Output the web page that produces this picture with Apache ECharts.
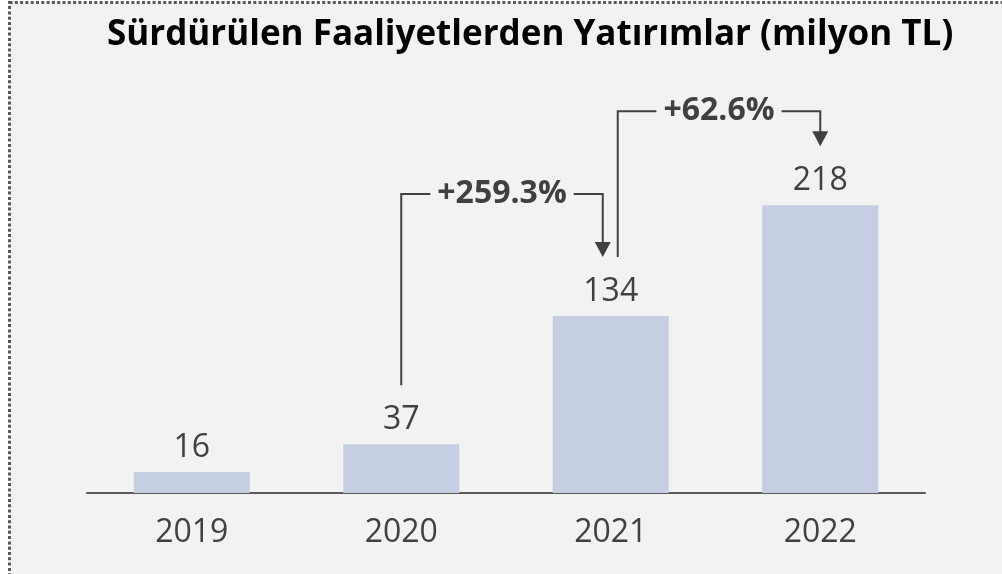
<!DOCTYPE html>
<html>
<head>
<meta charset="utf-8">
<title>Sürdürülen Faaliyetlerden Yatırımlar</title>
<script src="https://cdn.jsdelivr.net/npm/echarts@6/dist/echarts.min.js"></script>
<style>
  html, body { margin: 0; padding: 0; background: #fff; }
  #chart { width: 1002px; height: 574px; }
</style>
</head>
<body>
<div id="chart"></div>
<script>
const years = ['2019', '2020', '2021', '2022']
const investments = [16, 37, 134, 218]

// growth annotations between consecutive years
const growthFrom = [1, 2]
const growthTo = [2, 3]
const growthLabels = ['+259.3%', '+62.6%']

const FONT = '"Open Sans", "Noto Sans", sans-serif'
const TEXT = '#404040'
const BG = '#f2f2f2'

// pixel tweaks for the bracket arrows
const startShift = [0, 7]
const endShift = [-8, 0]
const bracketRise = [63, 35]
const gapAbove = 59

const chart = echarts.init(document.getElementById('chart'))

function renderGrowth(params, api) {
  const i = params.dataIndex
  const p0 = api.coord([api.value(0), api.value(2)])
  const p1 = api.coord([api.value(1), api.value(3)])
  const x0 = p0[0] + startShift[i]
  const x1 = p1[0] + endShift[i]
  const y0 = p0[1] - gapAbove
  const yEnd = p1[1] - gapAbove
  const yTop = Math.min(y0, yEnd) - bracketRise[i]
  return {
    type: 'group',
    children: [
      {
        type: 'polyline',
        shape: { points: [[x0, y0], [x0, yTop], [x1, yTop], [x1, yEnd - 14]] },
        style: { stroke: TEXT, lineWidth: 2, fill: null },
      },
      {
        type: 'polygon',
        shape: { points: [[x1 - 8, yEnd - 15], [x1 + 8, yEnd - 15], [x1, yEnd]] },
        style: { fill: TEXT },
      },
      {
        type: 'text',
        x: (x0 + x1) / 2,
        y: yTop,
        style: {
          text: growthLabels[i],
          align: 'center',
          verticalAlign: 'middle',
          font: 'bold 32px ' + FONT,
          fill: TEXT,
          backgroundColor: BG,
          padding: [0, 7],
        },
      },
    ],
  }
}

chart.setOption({
  backgroundColor: '#fff',
  animation: false,
  graphic: [
    {
      type: 'rect',
      z: -10,
      silent: true,
      shape: { x: 9.5, y: 2.5, width: 1100, height: 700 },
      style: { fill: BG, stroke: '#595959', lineWidth: 3, lineDash: [3, 2.3] },
    },
  ],
  title: {
    text: 'Sürdürülen Faaliyetlerden Yatırımlar (milyon TL)',
    left: 102,
    top: 13,
    textStyle: { fontFamily: FONT, fontSize: 35, fontWeight: 'bold', color: '#000' },
  },
  grid: { left: 87, right: 77, top: 97, bottom: 81 },
  xAxis: {
    type: 'category',
    data: years,
    axisTick: { show: false },
    axisLine: { lineStyle: { color: '#595959', width: 2 } },
    axisLabel: { fontFamily: FONT, fontSize: 32, color: TEXT, margin: 24 },
  },
  yAxis: {
    type: 'value',
    min: 0,
    max: 300,
    show: false,
    splitLine: { show: false },
  },
  series: [
    {
      name: 'Yatırımlar',
      type: 'bar',
      data: investments,
      barWidth: 116,
      itemStyle: { color: '#c5cfe1' },
      label: {
        show: true,
        position: 'top',
        distance: 8,
        fontFamily: FONT,
        fontSize: 32,
        color: TEXT,
      },
    },
    {
      type: 'custom',
      coordinateSystem: 'cartesian2d',
      clip: false,
      z: 5,
      renderItem: renderGrowth,
      data: growthFrom.map((f, i) => [f, growthTo[i], investments[f], investments[growthTo[i]]]),
    },
  ],
})
</script>
</body>
</html>
